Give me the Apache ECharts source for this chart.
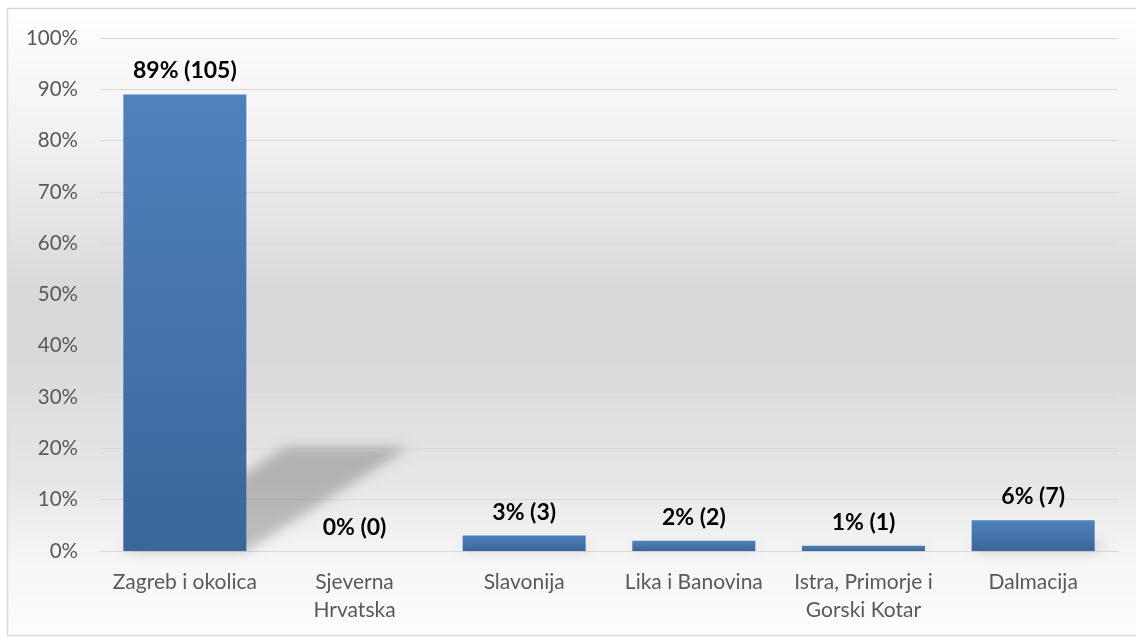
<!DOCTYPE html>
<html><head><meta charset="utf-8">
<script src="https://cdn.jsdelivr.net/npm/echarts@6/dist/echarts.min.js"></script>
<style>html,body{margin:0;padding:0;background:#fff}#c{width:1136px;height:637px}</style>
</head><body><div id="c"></div>
<script>
const categories = ['Zagreb i okolica', 'Sjeverna\nHrvatska', 'Slavonija', 'Lika i Banovina', 'Istra, Primorje i\nGorski Kotar', 'Dalmacija'];
const percents = [89, 0, 3, 2, 1, 6];
const counts = [105, 0, 3, 2, 1, 7];
const yTicks = [0, 10, 20, 30, 40, 50, 60, 70, 80, 90, 100];

const FONT = 'Lato, "Open Sans", sans-serif';
const chart = echarts.init(document.getElementById('c'), null, {renderer: 'canvas'});

const FAR = 3000;
function renderShadow(params, api) {
  const idx = api.value(0);
  const v = api.value(1);
  if (!v) return null;
  const base = api.coord([idx, 0]);
  const top = api.coord([idx, v]);
  const band = api.size([1, 0])[0];
  const w = band * 0.725;
  const h = base[1] - top[1];
  const dx = h * 0.357, dy = h * 0.228;
  const x0 = base[0] - w / 2, x1 = base[0] + w / 2, y0 = base[1];
  const pts = [[x0 - FAR, y0], [x1 - FAR, y0], [x1 + dx - FAR, y0 - dy], [x0 + dx - FAR, y0 - dy]];
  return {
    type: 'polygon',
    shape: {points: pts},
    style: {fill: '#000', shadowColor: 'rgba(0,0,0,0.22)', shadowBlur: 12, shadowOffsetX: FAR, shadowOffsetY: 0}
  };
}

chart.setOption({
  animation: false,
  backgroundColor: 'transparent',
  graphic: {elements: [
    {type: 'rect', z: -100, silent: true, shape: {x: 7.5, y: 8.5, width: 1140, height: 627},
     style: {fill: new echarts.graphic.LinearGradient(0, 0, 0, 1, [
       {offset: 0, color: '#ffffff'},
       {offset: 0.2, color: '#f2f2f2'},
       {offset: 0.45, color: '#d9d9d9'},
       {offset: 0.55, color: '#d9d9d9'},
       {offset: 0.75, color: '#e6e6e6'},
       {offset: 0.88, color: '#f6f6f6'},
       {offset: 1, color: '#fdfdfd'}
     ]), stroke: '#d9d9d9', lineWidth: 1.5}}
  ]},
  grid: {left: 100, right: 18, top: 38, bottom: 86, containLabel: false},
  xAxis: {
    type: 'category', data: categories,
    axisLine: {show: true, lineStyle: {color: '#d9d9d9', width: 1}},
    axisTick: {show: false},
    axisLabel: {color: '#595959', fontSize: 21, fontFamily: FONT, margin: 17, lineHeight: 28, interval: 0}
  },
  yAxis: {
    type: 'value', min: 0, max: 100, interval: 10,
    axisLine: {show: false}, axisTick: {show: false},
    splitLine: {lineStyle: {color: '#d9d9d9', width: 1}},
    axisLabel: {color: '#595959', fontSize: 20.5, fontFamily: FONT, margin: 22, formatter: v => yTicks.includes(v) ? v + '%' : ''}
  },
  series: [
    {
      type: 'custom', z: 1, silent: true,
      data: percents.map((p, i) => [i, p]),
      renderItem: renderShadow
    },
    {
      type: 'bar', z: 3, barWidth: '72.5%',
      data: percents,
      itemStyle: {color: new echarts.graphic.LinearGradient(0, 0, 0, 1, [
        {offset: 0, color: '#4f81bd'}, {offset: 1, color: '#3a6699'}
      ])},
      label: {
        show: true, position: 'top', distance: 12,
        color: '#000', fontSize: 23, fontWeight: 'bold', fontFamily: FONT,
        formatter: p => percents[p.dataIndex] + '% (' + counts[p.dataIndex] + ')'
      }
    }
  ]
});
</script></body></html>
